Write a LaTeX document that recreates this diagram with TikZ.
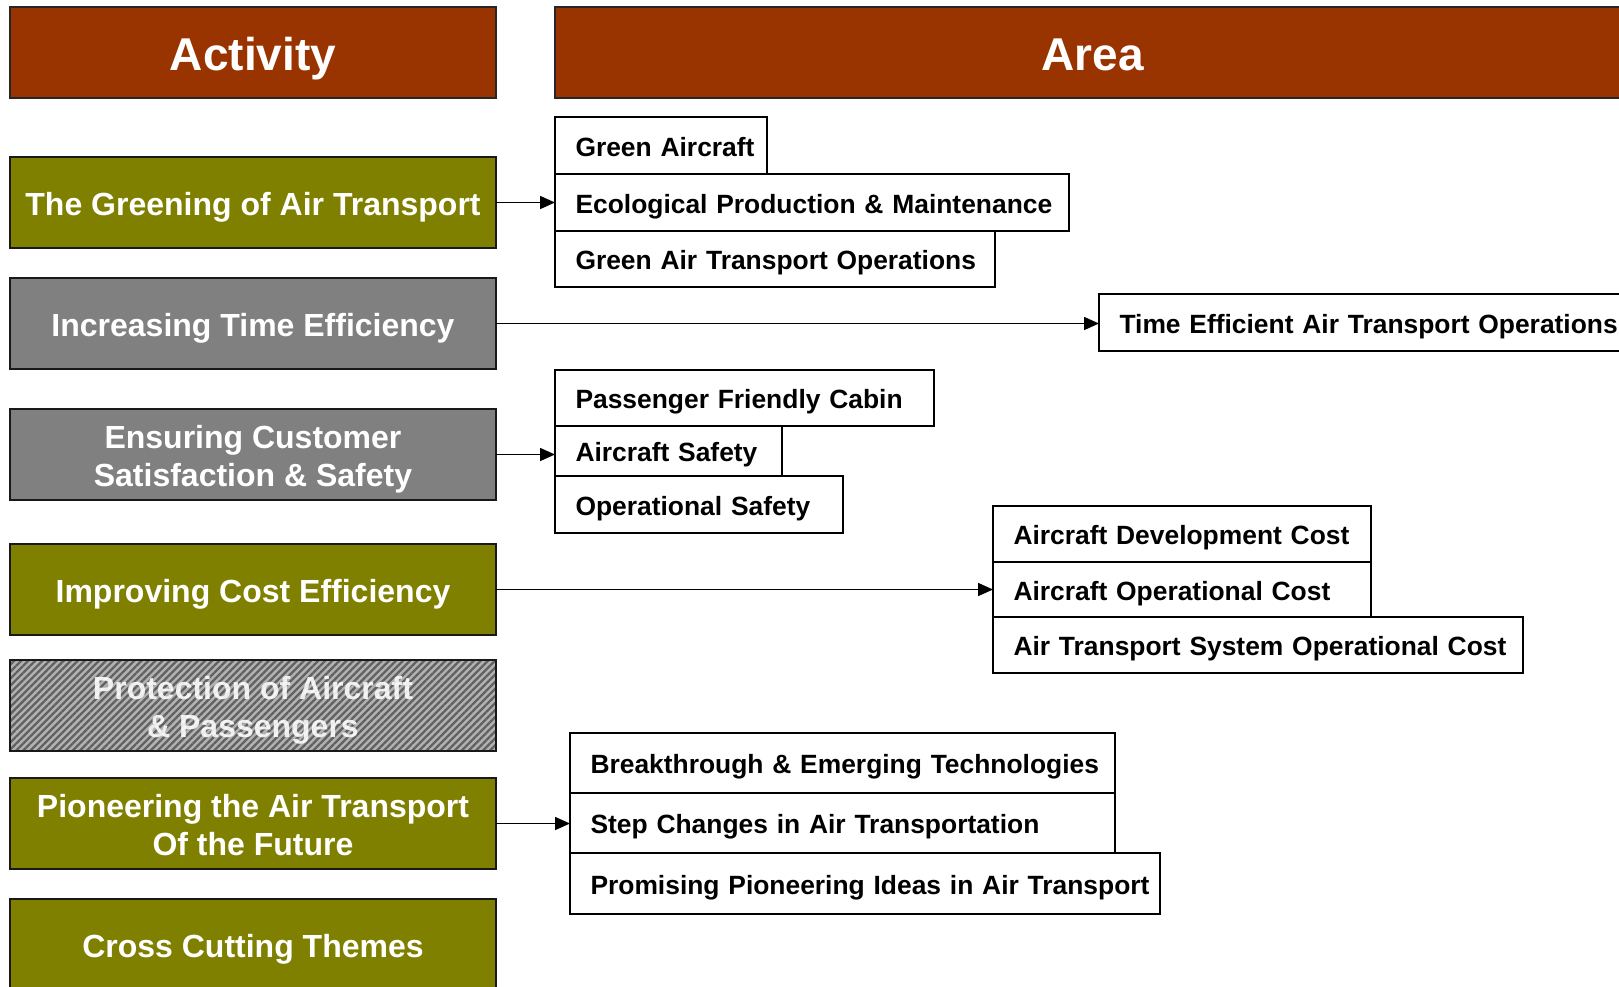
\documentclass[tikz,border=0pt]{standalone}
\usepackage{fontspec}
\setmainfont{Liberation Sans}
\usetikzlibrary{arrows.meta,patterns.meta}
\definecolor{hdrbrown}{HTML}{993300}
\definecolor{olivebox}{HTML}{808000}
\definecolor{greybox}{HTML}{808080}
\newcommand{\lowstrut}{\rule{0pt}{33pt}}
\newcommand{\histrut}{\rule{0pt}{26.5pt}}
\begin{document}
\begin{tikzpicture}[x=1pt,y=-1pt,
  hdr/.style={draw=black!85, line width=2pt, fill=hdrbrown, text=white,
    font=\fontsize{46}{52}\selectfont\bfseries, anchor=north west,
    inner sep=0pt, outer sep=0pt, minimum height=91pt,
    text height=35pt, text depth=0pt},
  act/.style={draw=black!90, line width=2pt, text=white,
    font=\fontsize{32}{38}\selectfont\bfseries, align=center,
    minimum width=486pt, minimum height=91pt, anchor=north west,
    inner sep=0pt, outer sep=0pt},
  one/.style={text height=26pt, text depth=0pt},
  hatch/.style={preaction={fill=black!30},
    pattern={Lines[angle=45,distance=5pt,line width=2.3pt]},
    pattern color=black!62, text opacity=0.88},
  area/.style={draw=black, line width=1.6pt, fill=white,
    font=\fontsize{26.4}{30}\selectfont\bfseries, anchor=north west,
    inner xsep=20.5pt, inner ysep=0pt, outer sep=0pt, align=left,
    text height=21pt, text depth=0pt},
  arr/.style={line width=1.6pt, -{Triangle[length=15pt,width=13pt]}}
]
\path[use as bounding box] (0,0) rectangle (1619,986);
\clip (0,0) rectangle (1619,986);

% headers
\node[hdr, minimum width=486pt] (hact) at (10,7) {Activity};
\node[hdr, minimum width=1075pt] (harea) at (555,7) {Area};

% activities
\node[act, fill=olivebox, one] (a1) at (10,157) {The Greening of Air Transport};
\node[act, fill=greybox, one] (a2) at (10,278) {Increasing Time Efficiency};
\node[act, fill=greybox] (a3) at (10,409) {\lowstrut Ensuring Customer\\Satisfaction \& Safety};
\node[act, fill=olivebox, one] (a4) at (10,544) {Improving Cost Efficiency};
\node[act, hatch] (a5) at (10,660) {\lowstrut Protection of Aircraft\\\& Passengers};
\node[act, fill=olivebox] (a6) at (10,778) {\histrut Pioneering the Air Transport\\Of the Future};
\node[act, fill=olivebox, one] (a7) at (10,899) {Cross Cutting Themes};

% areas
\node[area, text width=171pt, minimum height=57pt] (ga) at (555,117) {\mbox{Green Aircraft}};
\node[area, text width=473pt, minimum height=57pt] (eco) at (555,174) {\mbox{Ecological Production \& Maintenance}};
\node[area, text width=399pt, minimum height=56pt] (gato) at (555,231) {\mbox{Green Air Transport Operations}};

\node[area, text width=500pt, minimum height=57pt] (te) at (1099,294) {\mbox{Time Efficient Air Transport Operations}};

\node[area, text width=338pt, minimum height=56pt] (pfc) at (555,370) {\mbox{Passenger Friendly Cabin}};
\node[area, text width=186pt, minimum height=50pt] (as) at (555,426) {\mbox{Aircraft Safety}};
\node[area, text width=247pt, minimum height=57pt] (os) at (555,476) {\mbox{Operational Safety}};

\node[area, text width=337pt, minimum height=56pt] (adc) at (993,506) {\mbox{Aircraft Development Cost}};
\node[area, text width=337pt, minimum height=55pt] (aoc) at (993,562) {\mbox{Aircraft Operational Cost}};
\node[area, text width=489pt, minimum height=56pt] (atsoc) at (993,617) {\mbox{Air Transport System Operational Cost}};

\node[area, text width=504pt, minimum height=60pt] (bet) at (570,733) {\mbox{Breakthrough \& Emerging Technologies}};
\node[area, text width=504pt, minimum height=60pt] (sc) at (570,793) {\mbox{Step Changes in Air Transportation}};
\node[area, text width=549pt, minimum height=61pt] (ppi) at (570,853) {\mbox{Promising Pioneering Ideas in Air Transport}};

% connectors
\draw[arr] (a1.east) -- (a1.east -| eco.west);
\draw[arr] (a2.east) -- (a2.east -| te.west);
\draw[arr] (a3.east) -- (a3.east -| as.west);
\draw[arr] (a4.east) -- (a4.east -| aoc.west);
\draw[arr] (a6.east) -- (a6.east -| sc.west);
\end{tikzpicture}
\end{document}
